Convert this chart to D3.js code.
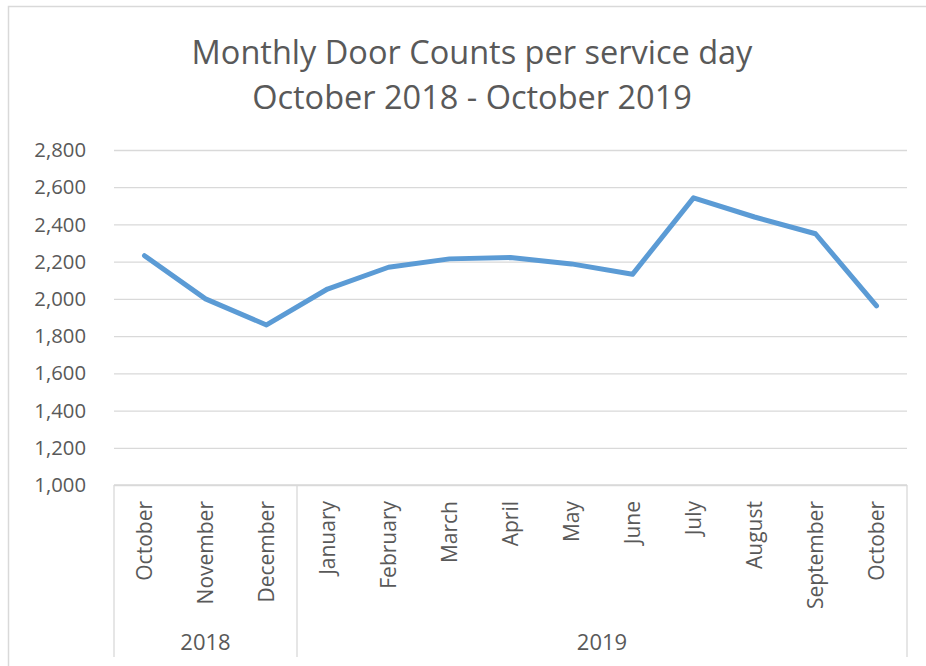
<!DOCTYPE html>
<html>
<head>
<meta charset="utf-8">
<script src="https://cdn.jsdelivr.net/npm/d3@7"></script>
<style>
  body { margin: 0; background: #fff; }
  svg { display: block; font-family: "Open Sans", "Noto Sans", sans-serif; }
</style>
</head>
<body>
<svg id="chart" width="926" height="666"></svg>
<script>
// data
const months = ["October", "November", "December", "January", "February", "March", "April",
                "May", "June", "July", "August", "September", "October"];
const years = ["2018", "2018", "2018", "2019", "2019", "2019", "2019",
               "2019", "2019", "2019", "2019", "2019", "2019"];
const doorCounts = [2232, 2000, 1860, 2053, 2170, 2215, 2222, 2188, 2132, 2543, 2440, 2350, 1962];
const yTicks = [1000, 1200, 1400, 1600, 1800, 2000, 2200, 2400, 2600, 2800];
const titleLines = ["Monthly Door Counts per service day", "October 2018 - October 2019"];

const width = 926, height = 666;
const margin = { left: 114, right: 19, top: 150, bottom: 181 };
const textColor = "#595959";

const svg = d3.select("#chart");

// outer chart frame (left + top edges are visible)
svg.append("path")
  .attr("d", `M8.5,${height} V6.5 H${width}`)
  .attr("fill", "none")
  .attr("stroke", "#d9d9d9")
  .attr("stroke-width", 1.5);

// title
svg.append("g")
  .selectAll("text")
  .data(titleLines)
  .join("text")
  .attr("x", 472)
  .attr("y", (d, i) => 64 + i * 45)
  .attr("text-anchor", "middle")
  .attr("font-size", 32.5)
  .attr("fill", textColor)
  .text(d => d);

const idx = d3.range(months.length);
const x = d3.scaleBand()
  .domain(idx)
  .range([margin.left, width - margin.right]);

const y = d3.scaleLinear()
  .domain([1000, 2800])
  .range([height - margin.bottom, margin.top]);

// gridlines
svg.append("g")
  .attr("transform", `translate(${margin.left},0)`)
  .call(d3.axisLeft(y).tickValues(yTicks).tickSize(-(width - margin.left - margin.right)).tickFormat(""))
  .call(g => g.select(".domain").remove())
  .call(g => g.selectAll("line").attr("stroke", "#d9d9d9").attr("stroke-width", 1.3));

// y tick labels
svg.append("g")
  .selectAll("text")
  .data(yTicks)
  .join("text")
  .attr("x", 86)
  .attr("y", d => y(d))
  .attr("dy", "0.35em")
  .attr("text-anchor", "end")
  .attr("font-size", 20.3)
  .attr("fill", textColor)
  .text(d3.format(","));

// category axis: baseline + group separators
const axisTop = y(1000);
const axisBottom = 657;
const groups = d3.groups(idx, i => years[i]);
const axisG = svg.append("g").attr("stroke", "#d9d9d9").attr("stroke-width", 1.3);
axisG.append("line")
  .attr("x1", margin.left).attr("x2", width - margin.right)
  .attr("y1", axisTop).attr("y2", axisTop);
const seps = [x(0)].concat(groups.map(([, ids]) => x(ids[ids.length - 1]) + x.bandwidth()));
axisG.selectAll("line.sep")
  .data(seps)
  .join("line")
  .attr("class", "sep")
  .attr("x1", d => d).attr("x2", d => d)
  .attr("y1", axisTop).attr("y2", axisBottom);

// month labels, rotated
svg.append("g")
  .selectAll("text")
  .data(idx)
  .join("text")
  .attr("transform", i => `translate(${x(i) + x.bandwidth() / 2},${axisTop + 16}) rotate(-90)`)
  .attr("dy", "0.35em")
  .attr("text-anchor", "end")
  .attr("font-size", 21)
  .attr("fill", textColor)
  .text(i => months[i]);

// year labels
svg.append("g")
  .selectAll("text")
  .data(groups)
  .join("text")
  .attr("x", ([, ids]) => (x(ids[0]) + x(ids[ids.length - 1]) + x.bandwidth()) / 2)
  .attr("y", 642)
  .attr("dy", "0.35em")
  .attr("text-anchor", "middle")
  .attr("font-size", 22)
  .attr("fill", textColor)
  .text(([yr]) => yr);

// the line
const line = d3.line()
  .x((d, i) => x(i) + x.bandwidth() / 2)
  .y(d => y(d));

svg.append("path")
  .datum(doorCounts)
  .attr("d", line)
  .attr("fill", "none")
  .attr("stroke", "#5b9bd5")
  .attr("stroke-width", 5)
  .attr("stroke-linejoin", "round")
  .attr("stroke-linecap", "round");
</script>
</body>
</html>
